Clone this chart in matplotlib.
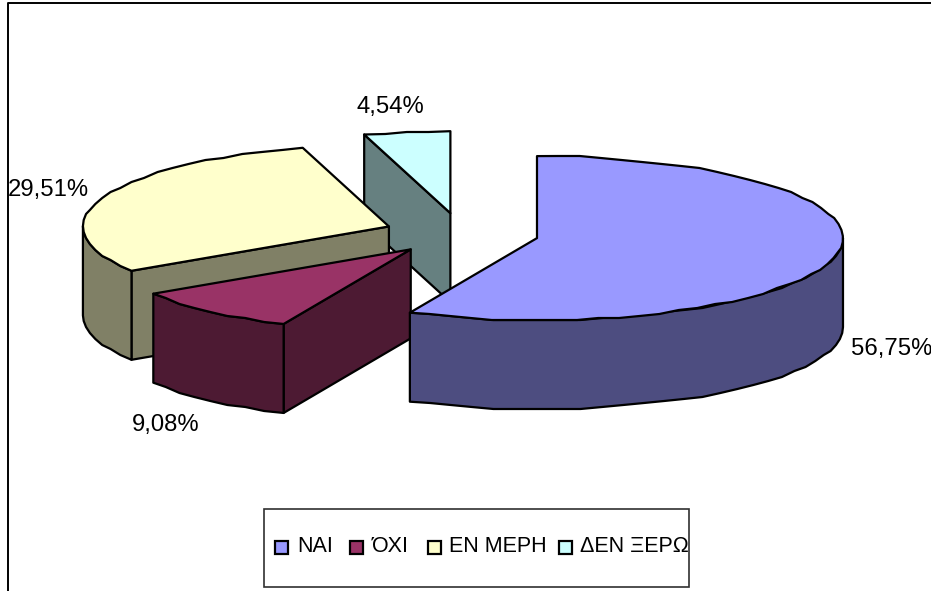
import numpy as np
import matplotlib
matplotlib.use('Agg')
import matplotlib.pyplot as plt
from matplotlib.patches import Polygon, Rectangle

# Απαντήσεις και ποσοστά
labels = ['ΝΑΙ', 'ΌΧΙ', 'ΕΝ ΜΕΡΗ', 'ΔΕΝ ΞΕΡΩ']
values = [56.75, 9.08, 29.51, 4.54]
value_labels = ['56,75%', '9,08%', '29,51%', '4,54%']
top_colors = ['#9999FF', '#993366', '#FFFFCC', '#CCFFFF']
side_colors = ['#4D4D80', '#4D1A33', '#808066', '#668080']

W, H = 931, 591
CX, CY = 461.4, 233.7   # pie centre
RX, RY = 306, 82        # ellipse radii of the tilted top
DEPTH = 89
EXPLODE = 0.2528
RIM_STEP = 4            # degrees between rim points
GRID_Y = 2              # coarse outline of the rim

plt.rcParams['font.family'] = ['Liberation Sans', 'DejaVu Sans']

fig = plt.figure(figsize=(W / 100, H / 100), dpi=100)
ax = fig.add_axes([0, 0, 1, 1])
ax.set_xlim(0, W)
ax.set_ylim(H, 0)
ax.axis('off')


def corner(cx, cy, t):
    t = np.radians(t)
    return np.array([cx + RX * np.sin(t), cy - RY * np.cos(t)])


def rim(cx, cy, t0, t1):
    # t is degrees clockwise from 12 o'clock
    n = max(int((t1 - t0) / RIM_STEP), 1) + 1
    pts = np.array([corner(cx, cy, t) for t in np.linspace(t0, t1, n)])
    # snap the inner points so the curve looks slightly rough
    pts[1:-1, 1] = np.round(pts[1:-1, 1] / GRID_Y) * GRID_Y
    return pts


def shift(pts):
    return pts + [0, DEPTH]


# frame of the chart area
ax.plot([8, 8, W], [H, 3, 3], color='black', lw=1.4, solid_capstyle='butt')

# slice angles
edges = np.concatenate([[0], np.cumsum(values) / sum(values) * 360])
slices = []
for i in range(len(values)):
    t0, t1 = edges[i], edges[i + 1]
    mid = np.radians((t0 + t1) / 2)
    cx = CX + EXPLODE * RX * np.sin(mid)
    cy = CY - EXPLODE * RY * np.cos(mid)
    slices.append((t0, t1, cx, cy))

# back slices first so the front ones cover them
lw = 1.6
for i in [3, 2, 1, 0]:
    t0, t1, cx, cy = slices[i]
    apex = np.array([[cx, cy]])
    side = side_colors[i]

    # cut faces
    for t, show in [(t0, np.sin(np.radians(t0)) < -1e-6), (t1, np.sin(np.radians(t1)) > 1e-6)]:
        if show:
            edge = np.vstack([apex, corner(cx, cy, t)])
            face = np.vstack([edge, shift(edge)[::-1]])
            ax.add_patch(Polygon(face, closed=True, fc=side, ec='black', lw=lw, joinstyle='round'))

    # outer wall, only the part facing front
    a, b = max(t0, 90), min(t1, 270)
    if a < b:
        arc = rim(cx, cy, a, b)
        wall = np.vstack([arc, shift(arc)[::-1]])
        ax.add_patch(Polygon(wall, closed=True, fc=side, ec='black', lw=lw, joinstyle='round'))

    # top
    top = np.vstack([apex, rim(cx, cy, t0, t1)])
    ax.add_patch(Polygon(top, closed=True, fc=top_colors[i], ec='black', lw=lw, joinstyle='round'))

# value labels
label_pos = [(892, 349), (166, 425.5), (48, 190), (390, 107.5)]
for txt, (x, y) in zip(value_labels, label_pos):
    ax.text(x, y, txt, fontsize=17.2, ha='center', va='center', color='black')

# legend box
ax.add_patch(Rectangle((264, 509), 425, 78, fc='white', ec='#303030', lw=1.2))
swatch_x = [275, 350, 427.5, 558.5]
text_x = [297, 372, 449, 580]
for i, lab in enumerate(labels):
    ax.add_patch(Rectangle((swatch_x[i], 540.5), 13, 13, fc=top_colors[i], ec='black', lw=1.6))
    ax.text(text_x[i], 547, lab, fontsize=15.5, ha='left', va='center', color='black')

fig.savefig('out.png', dpi=100, facecolor='white')
